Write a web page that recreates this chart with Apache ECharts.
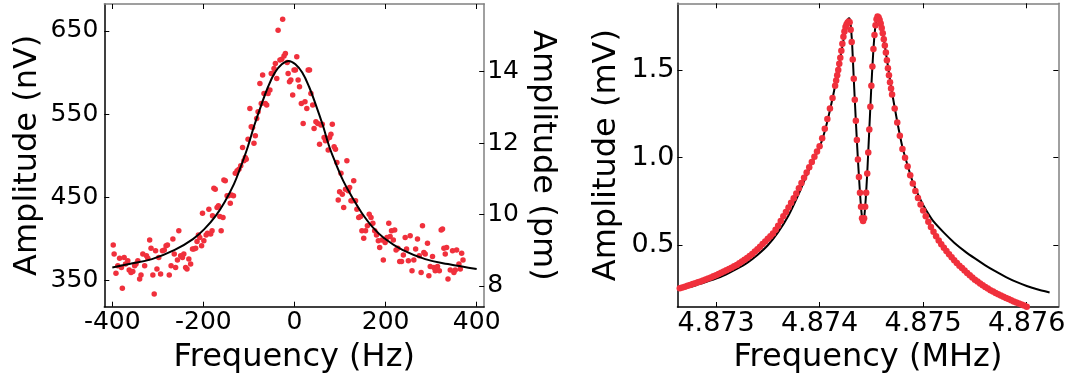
<!DOCTYPE html>
<html>
<head>
<meta charset="utf-8">
<title>Resonance sweeps</title>
<script src="https://cdn.jsdelivr.net/npm/echarts@6/dist/echarts.min.js"></script>
<style>
  html, body { margin: 0; padding: 0; background: #fff; }
  #chart { width: 1073px; height: 381px; }
</style>
</head>
<body>
<div id="chart"></div>
<script>
// ---- left panel: measured sweep (Hz, nV) ----
const leftFreq = [
  -398,-396,-392,-388,-384,-380,-378,-374,-371,-366,-363,-359,-355,-351,-348,-344,-340,-337,-333,-329,
  -325,-322,-318,-315,-311,-308,-305,-302,-298,-294,-290,-286,-282,-279,-275,-271,-267,-264,-261,-257,
  -254,-250,-246,-243,-239,-236,-232,-228,-224,-221,-217,-214,-211,-208,-204,-202,-199,-194,-191,-188,
  -184,-181,-180,-177,-174,-170,-167,-164,-161,-157,-155,-152,-148,-145,-141,-138,-134,-130,-126,-122,
  -118,-114,-111,-108,-106,-102,-98,-95,-92,-89,-86,-83,-80,-76,-73,-70,-67,-64,-61,-58,
  -54,-51,-48,-45,-42,-39,-36,-32,-28,-26,-23,-20,-16,-14,-11,-8,-4,-1,2,5,
  8,11,15,19,23,27,30,33,36,40,43,47,51,55,58,61,65,68,71,74,
  77,80,83,87,90,93,96,99,102,105,108,112,115,118,121,124,127,130,134,137,
  141,145,148,152,156,160,164,168,172,176,180,184,187,192,195,199,203,207,210,213,
  217,220,223,227,231,235,239,243,246,250,254,258,262,266,270,274,278,281,284,287,
  292,295,298,303,306,309,314,318,322,325,328,331,334,337,342,347,350,353,356,361,
  364,367,370
];
const leftAmp = [
  393,382,359,368,377,366,341,378,370,374,363,360,361,368,370,374,352,357,382,368,
  380,377,399,389,357,334,386,364,378,358,386,387,392,393,357,368,400,382,366,375,
  410,380,378,382,366,364,376,370,388,388,389,397,405,402,392,431,398,405,407,436,
  406,410,428,461,460,438,440,427,410,426,471,470,452,452,443,453,452,479,482,484,
  488,510,494,498,496,520,557,535,534,515,524,545,553,587,563,597,575,563,561,575,
  579,599,599,605,611,593,651,615,616,664,620,623,612,599,589,591,573,603,603,619,
  591,583,563,539,565,557,603,603,575,561,533,541,539,514,537,538,522,518,519,507,
  522,526,538,511,508,492,447,457,479,454,438,460,494,458,462,446,446,470,446,436,
  426,427,410,401,410,416,430,426,419,410,405,398,390,399,375,396,402,419,403,410,
  399,411,387,389,373,373,381,402,388,374,404,362,375,388,400,380,360,416,384,382,
  395,356,367,379,366,362,367,362,411,412,389,382,390,352,363,386,360,363,387,370,
  364,383,375
];
// Lorentzian fit
const leftFitFreq = [-400,-363,-313,-263,-223,-198,-173,-153,-133,-118,-103,-88,-73,-58,-43,-28,-13,2,17,32,47,62,77,92,107,127,147,172,197,237,287,337,400];
const leftFitAmp  = [366,370,376,387,400,412,428,445,466,487,510,537,561,583,600,610,614,610,600,583,561,537,510,489,470,450,432,414,401,387,376,370,364];
const leftFreqTicks = [-400, -200, 0, 200, 400];
const leftAmpTicks = [350, 450, 550, 650];
const leftPmTicks = [8, 10, 12, 14];

// ---- right panel: coupled-mode sweep (MHz, mV) ----
const rightFreq = [
  4.872625,4.87265,4.872675,4.8727,4.872725,4.87275,4.872775,4.8728,4.872825,4.87285,
  4.872875,4.8729,4.872925,4.87295,4.872975,4.873,4.873025,4.87305,4.873075,4.8731,
  4.873125,4.87315,4.873175,4.8732,4.873225,4.87325,4.873275,4.8733,4.873325,4.87335,
  4.873375,4.8734,4.873425,4.87345,4.873475,4.8735,4.873525,4.87355,4.873575,4.8736,
  4.873625,4.87365,4.873675,4.8737,4.873725,4.87375,4.873775,4.8738,4.873825,4.87385,
  4.873875,4.8739,4.873925,4.87395,4.873975,4.874,4.874025,4.87405,4.874075,4.8741,
  4.874125,4.87415,
  4.87416,4.87417,4.87418,4.87419,4.8742,4.87421,4.87422,4.87423,4.87424,4.87425,
  4.87426,4.87427,4.87428,4.87429,4.8743,4.87431,4.87432,4.87433,4.87434,4.87435,
  4.87436,4.87437,4.87438,4.87439,4.8744,4.87441,4.87442,4.87443,4.87444,4.87445,
  4.87446,4.87447,4.87448,4.87449,4.8745,4.87451,4.87452,4.87453,4.87454,4.87455,
  4.87456,4.87457,4.87458,4.87459,4.8746,4.87461,4.87462,4.87463,4.87464,4.87465,
  4.87466,4.87467,4.87468,4.87469,
  4.8747,4.874725,4.87475,4.874775,4.8748,4.874825,4.87485,4.874875,4.8749,4.874925,
  4.87495,4.874975,4.875,4.875025,4.87505,4.875075,4.8751,4.875125,4.87515,4.875175,
  4.8752,4.875225,4.87525,4.875275,4.8753,4.875325,4.87535,4.875375,4.8754,4.875425,
  4.87545,4.875475,4.8755,4.875525,4.87555,4.875575,4.8756,4.875625,4.87565,4.875675,
  4.8757,4.875725,4.87575,4.875775,4.8758,4.875825,4.87585,4.875875,4.8759,4.875925,
  4.87595,4.875975,4.876,4.876025,4.87605
];
const rightAmp = [
  0.250,0.255,0.259,0.264,0.269,0.274,0.279,0.284,0.289,0.294,
  0.299,0.305,0.311,0.317,0.323,0.329,0.336,0.343,0.351,0.358,
  0.365,0.372,0.380,0.388,0.397,0.407,0.417,0.428,0.439,0.451,
  0.464,0.478,0.492,0.507,0.522,0.537,0.552,0.568,0.588,0.612,
  0.638,0.665,0.690,0.716,0.742,0.768,0.795,0.825,0.856,0.886,
  0.915,0.945,0.975,1.005,1.035,1.065,1.11,1.165,1.22,1.28,
  1.34,1.41,
  1.44,1.47,1.50,1.535,1.57,1.61,1.65,1.69,1.72,1.745,
  1.76,1.77,1.777,1.772,1.73,1.66,1.56,1.45,1.33,1.21,
  1.10,0.99,0.89,0.80,0.72,0.655,0.638,0.655,0.72,0.80,
  0.91,1.03,1.16,1.29,1.41,1.52,1.62,1.70,1.755,1.79,
  1.805,1.80,1.785,1.765,1.74,1.71,1.675,1.64,1.60,1.555,
  1.51,1.47,1.43,1.395,
  1.36,1.28,1.20,1.125,1.05,1.0,0.95,0.90,0.853,0.81,
  0.77,0.733,0.698,0.665,0.634,0.604,0.577,0.551,0.528,0.506,
  0.486,0.467,0.449,0.432,0.415,0.399,0.384,0.37,0.356,0.342,
  0.329,0.316,0.304,0.293,0.282,0.272,0.262,0.253,0.244,0.236,
  0.228,0.221,0.214,0.207,0.20,0.193,0.187,0.18,0.174,0.168,
  0.162,0.156,0.15,0.144,0.138
];
// coupled-oscillator fit
const rightFitFreq = [
  4.87264,4.8727,4.8728,4.8729,4.873,4.8731,4.8732,4.8733,4.8734,4.8735,
  4.8736,4.8737,4.8738,4.8739,4.874,4.87405,4.8741,4.87415,4.8742,4.87423,
  4.87426,4.874275,4.874288,4.8743,4.874315,4.87433,4.87435,4.87437,4.87439,4.874405,
  4.874418,4.87443,4.874445,4.87446,4.87448,4.8745,4.87452,4.87454,4.874563,4.874585,
  4.87461,4.87465,4.8747,4.87475,4.8748,4.87485,4.8749,4.87495,4.875,4.87505,
  4.8751,4.8752,4.8753,4.8754,4.8755,4.8756,4.8757,4.8758,4.8759,4.876,
  4.8761,4.876221
];
const rightFitAmp = [
  0.245,0.255,0.271,0.29,0.31,0.335,0.365,0.40,0.445,0.50,
  0.575,0.67,0.795,0.935,1.06,1.15,1.27,1.41,1.57,1.67,
  1.76,1.79,1.795,1.76,1.64,1.45,1.21,0.99,0.80,0.685,
  0.635,0.655,0.76,0.91,1.16,1.41,1.62,1.755,1.805,1.78,
  1.71,1.56,1.37,1.205,1.06,0.955,0.86,0.79,0.73,0.68,
  0.636,0.572,0.515,0.467,0.425,0.386,0.351,0.319,0.291,0.268,
  0.249,0.231
];
const rightFreqTicks = [4.873, 4.874, 4.875, 4.876];
const rightAmpTicks = [0.5, 1.0, 1.5];

const FONT = 'DejaVu Sans';
const RED = '#f0303c';

const zip = (xs, ys) => xs.map((x, i) => [x, ys[i]]);

// one value axis in the matplotlib look: inward ticks, no grid
function axis(o) {
  return {
    type: 'value',
    gridIndex: o.grid,
    position: o.pos,
    min: o.min,
    max: o.max,
    name: o.name || '',
    nameLocation: 'middle',
    nameGap: o.nameGap || 0,
    nameRotate: o.nameRotate,
    nameTextStyle: { fontFamily: FONT, fontSize: 32, color: '#000' },
    axisLine: { show: true, onZero: false, lineStyle: { color: o.lineColor || '#000', width: 1.5 } },
    axisTick: { show: true, inside: true, length: 5, customValues: o.ticks, lineStyle: { color: '#000', width: 1 } },
    axisLabel: {
      show: o.labels !== false,
      customValues: o.ticks,
      margin: o.margin || 4,
      fontFamily: FONT,
      fontSize: o.fontSize || 25,
      color: '#000',
      formatter: o.fmt || (v => String(v))
    },
    splitLine: { show: false },
    axisPointer: { show: false }
  };
}

const chart = echarts.init(document.getElementById('chart'), null, { renderer: 'canvas' });

chart.setOption({
  animation: false,
  backgroundColor: '#fff',
  grid: [
    { left: 104.3, right: 588.8, top: 4, bottom: 74.3, outerBoundsMode: 'none' },
    { left: 677.5, right: 14.7, top: 3.3, bottom: 74, outerBoundsMode: 'none' }
  ],
  xAxis: [
    axis({ grid: 0, pos: 'bottom', min: -417.6, max: 416.5, ticks: leftFreqTicks, margin: 3,
           name: 'Frequency (Hz)', nameGap: 35 }),
    axis({ grid: 0, pos: 'top', min: -417.6, max: 416.5, ticks: leftFreqTicks, labels: false, lineColor: '#808080' }),
    axis({ grid: 1, pos: 'bottom', min: 4.872628, max: 4.876305, ticks: rightFreqTicks, margin: 3, fontSize: 27,
           fmt: v => v.toFixed(3), name: 'Frequency (MHz)', nameGap: 31 }),
    axis({ grid: 1, pos: 'top', min: 4.872628, max: 4.876305, ticks: rightFreqTicks, labels: false, lineColor: '#808080' })
  ],
  yAxis: [
    axis({ grid: 0, pos: 'left', min: 318.8, max: 682.4, ticks: leftAmpTicks, margin: 6,
           name: 'Amplitude (nV)', nameGap: 61, nameRotate: 90 }),
    axis({ grid: 0, pos: 'right', min: 7.42, max: 15.895, ticks: leftPmTicks, margin: 3, lineColor: '#808080',
           name: 'Amplitude (pm)', nameGap: 42, nameRotate: -90 }),
    axis({ grid: 1, pos: 'left', min: 0.148, max: 1.8805, ticks: rightAmpTicks, margin: 3, fontSize: 27,
           fmt: v => v.toFixed(1), name: 'Amplitude (mV)', nameGap: 55, nameRotate: 90 }),
    axis({ grid: 1, pos: 'right', min: 0.148, max: 1.8805, ticks: rightAmpTicks, labels: false, lineColor: '#808080' })
  ],
  series: [
    {
      type: 'scatter', xAxisIndex: 0, yAxisIndex: 0, z: 2, silent: true,
      symbolSize: 5.5, itemStyle: { color: RED, opacity: 1 },
      data: zip(leftFreq, leftAmp)
    },
    {
      type: 'line', xAxisIndex: 0, yAxisIndex: 0, z: 3, silent: true,
      showSymbol: false, smooth: 0.4,
      lineStyle: { color: '#000', width: 2 },
      data: zip(leftFitFreq, leftFitAmp)
    },
    {
      type: 'line', xAxisIndex: 2, yAxisIndex: 2, z: 2, silent: true,
      showSymbol: false, smooth: 0.2,
      lineStyle: { color: '#000', width: 2 },
      data: zip(rightFitFreq, rightFitAmp)
    },
    {
      type: 'scatter', xAxisIndex: 2, yAxisIndex: 2, z: 3, silent: true,
      symbolSize: 6.5, itemStyle: { color: RED, opacity: 1 },
      data: zip(rightFreq, rightAmp)
    }
  ]
});
</script>
</body>
</html>
